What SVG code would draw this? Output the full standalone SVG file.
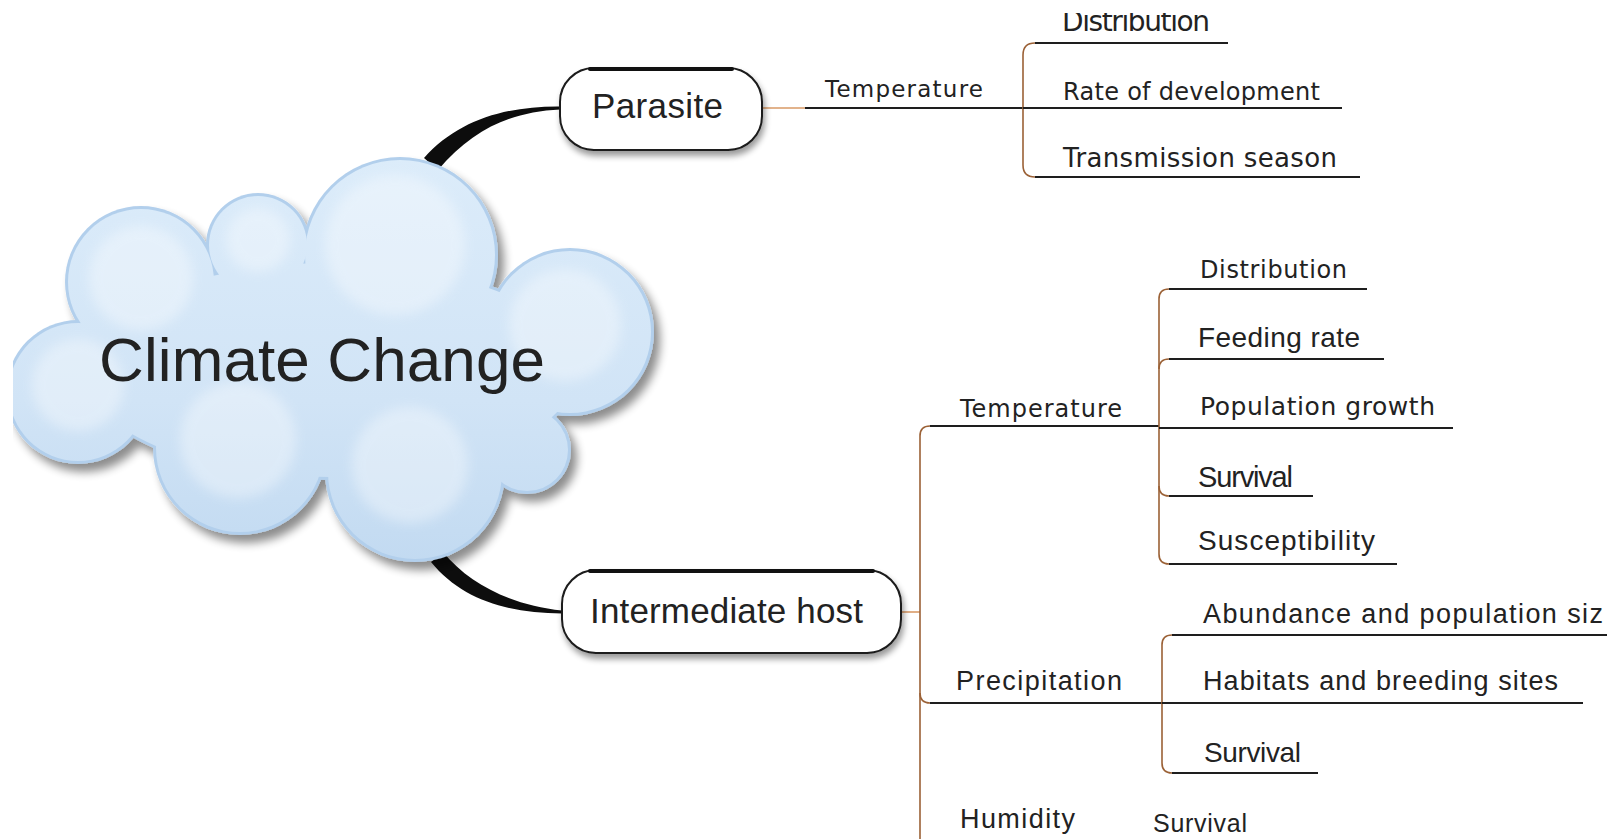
<svg xmlns="http://www.w3.org/2000/svg" width="1607" height="839" viewBox="0 0 1607 839">
<style>
  .ul{stroke:#1e1e1e;stroke-width:2;fill:none}
  .br{stroke:#9b6136;stroke-width:1.6;fill:none}
  .lead{stroke:#d99a66;stroke-width:1.6;fill:none}
  .dj{font-family:"DejaVu Sans","Liberation Sans",sans-serif;fill:#222}
  .ar{font-family:"Liberation Sans",Arial,sans-serif;fill:#222}
  .box{fill:#ffffff;stroke:#1a1a1a;stroke-width:2}
  .rim{stroke:#111;stroke-width:4;fill:none;stroke-linecap:round}
  .conn{fill:#0d0d0d}
</style>
<defs>
  <filter id="cloudShadow" x="-10%" y="-10%" width="125%" height="130%">
    <feGaussianBlur in="SourceAlpha" stdDeviation="5"/>
    <feOffset dx="6" dy="8"/>
    <feComponentTransfer><feFuncA type="linear" slope="0.45"/></feComponentTransfer>
    <feMerge><feMergeNode/><feMergeNode in="SourceGraphic"/></feMerge>
  </filter>
  <filter id="boxShadow" x="-10%" y="-20%" width="120%" height="150%">
    <feGaussianBlur in="SourceAlpha" stdDeviation="3"/>
    <feOffset dx="2" dy="5"/>
    <feComponentTransfer><feFuncA type="linear" slope="0.4"/></feComponentTransfer>
    <feMerge><feMergeNode/><feMergeNode in="SourceGraphic"/></feMerge>
  </filter>
  <filter id="soft" x="-20%" y="-20%" width="140%" height="140%">
    <feGaussianBlur stdDeviation="6"/>
  </filter>
  <linearGradient id="cloudFill" gradientUnits="userSpaceOnUse" x1="0" y1="156" x2="0" y2="564">
    <stop offset="0" stop-color="#dcecfa"/>
    <stop offset="0.6" stop-color="#d1e4f6"/>
    <stop offset="1" stop-color="#c2daf1"/>
  </linearGradient>
  <clipPath id="cloudClip"><rect x="13" y="0" width="700" height="839"/></clipPath>
  <clipPath id="topClip"><rect x="0" y="13" width="1607" height="826"/></clipPath>
</defs>
<rect width="1607" height="839" fill="#ffffff"/>

<!-- thick connectors from the central cloud to the two main branches -->
<g id="connectors">
  <path class="conn" d="M424 158 C458 120 506 106 560 106.5 L560 109.5 C512 112 474 128 438 170 Z"/>
  <path class="conn" d="M443 552 C470 585 512 605 562 610.5 L562 613.5 C508 613 462 600 431 562 Z"/>
  <!-- parasite branch -->
  <line class="lead" x1="762" y1="108" x2="805" y2="108"/>
  <line class="ul" x1="805" y1="108" x2="1023" y2="108"/>
  <path class="br" d="M1035 43 Q1023 43 1023 55 L1023 165 Q1023 177 1035 177"/>
  <line class="ul" x1="1035" y1="43" x2="1228" y2="43"/>
  <line class="ul" x1="1023" y1="108" x2="1342" y2="108"/>
  <line class="ul" x1="1035" y1="177" x2="1360" y2="177"/>
  <!-- intermediate host branch -->
  <line class="lead" x1="901" y1="612" x2="920" y2="612"/>
  <path class="br" d="M930 426 Q920 426 920 436 L920 839"/>
  <line class="ul" x1="930" y1="426" x2="1159" y2="426"/>
  <path class="br" d="M1169 289 Q1159 289 1159 299 L1159 554 Q1159 564 1169 564"/>
  <line class="ul" x1="1169" y1="289" x2="1367" y2="289"/>
  <path class="br" d="M1159 369 Q1159 359 1169 359"/>
  <line class="ul" x1="1169" y1="359" x2="1384" y2="359"/>
  <line class="ul" x1="1159" y1="428" x2="1453" y2="428"/>
  <path class="br" d="M1159 486 Q1159 496 1169 496"/>
  <line class="ul" x1="1169" y1="496" x2="1313" y2="496"/>
  <line class="ul" x1="1169" y1="564" x2="1397" y2="564"/>
  <path class="br" d="M920 693 Q920 703 930 703"/>
  <line class="ul" x1="930" y1="703" x2="1162" y2="703"/>
  <path class="br" d="M1172 635 Q1162 635 1162 645 L1162 763 Q1162 773 1172 773"/>
  <line class="ul" x1="1172" y1="635" x2="1607" y2="635"/>
  <line class="ul" x1="1162" y1="703" x2="1583" y2="703"/>
  <line class="ul" x1="1172" y1="773" x2="1318" y2="773"/>
</g>

<!-- central cloud -->
<g id="climate-change" clip-path="url(#cloudClip)">
  <g filter="url(#cloudShadow)">
    <g fill="#b2cfec">
      <circle cx="141" cy="282" r="76"/>
      <circle cx="258" cy="245" r="52"/>
      <circle cx="400" cy="255" r="98"/>
      <circle cx="570" cy="332" r="84"/>
      <circle cx="527" cy="450" r="44"/>
      <circle cx="415" cy="472" r="90"/>
      <circle cx="240" cy="448" r="87"/>
      <circle cx="78" cy="392" r="72"/>
      <ellipse cx="330" cy="370" rx="250" ry="110"/>
    </g>
  </g>
  <g fill="url(#cloudFill)">
    <circle cx="141" cy="282" r="73"/>
    <circle cx="258" cy="245" r="49"/>
    <circle cx="400" cy="255" r="95"/>
    <circle cx="570" cy="332" r="81"/>
    <circle cx="527" cy="450" r="41"/>
    <circle cx="415" cy="472" r="87"/>
    <circle cx="240" cy="448" r="84"/>
    <circle cx="78" cy="392" r="69"/>
    <ellipse cx="330" cy="370" rx="247" ry="107"/>
  </g>
  <g fill="#ffffff" opacity="0.35" filter="url(#soft)">
    <circle cx="141" cy="278" r="52"/>
    <circle cx="258" cy="240" r="32"/>
    <circle cx="395" cy="245" r="70"/>
    <circle cx="565" cy="325" r="56"/>
    <circle cx="410" cy="465" r="58"/>
    <circle cx="238" cy="440" r="58"/>
    <circle cx="78" cy="385" r="46"/>
  </g>
  <text class="ar" x="99" y="381" font-size="62" fill="#111" textLength="446">Climate Change</text>
</g>

<!-- main branch nodes -->
<g id="parasite">
  <rect class="box" x="560" y="68" width="202" height="82" rx="34" filter="url(#boxShadow)"/>
  <line class="rim" x1="590" y1="69" x2="732" y2="69"/>
  <text class="ar" x="592" y="118" font-size="35" textLength="131">Parasite</text>
</g>
<g id="intermediate-host">
  <rect class="box" x="562" y="570" width="339" height="83" rx="34" filter="url(#boxShadow)"/>
  <line class="rim" x1="590" y1="571" x2="873" y2="571"/>
  <text class="ar" x="590" y="623" font-size="35" textLength="273">Intermediate host</text>
</g>

<!-- parasite factors -->
<g id="parasite-temperature">
  <text class="dj" x="825" y="97" font-size="23" textLength="158">Temperature</text>
</g>
<g id="parasite-distribution" clip-path="url(#topClip)">
  <text class="dj" x="1062" y="31" font-size="28" textLength="148">Distribution</text>
</g>
<g id="rate-of-development">
  <text class="dj" x="1063" y="100" font-size="24" textLength="257">Rate of development</text>
</g>
<g id="transmission-season">
  <text class="dj" x="1063" y="167" font-size="26" textLength="274">Transmission season</text>
</g>

<!-- intermediate host factors -->
<g id="host-temperature">
  <text class="dj" x="960" y="417" font-size="24" textLength="162">Temperature</text>
</g>
<g id="host-distribution">
  <text class="dj" x="1200" y="278" font-size="24" textLength="147">Distribution</text>
</g>
<g id="feeding-rate">
  <text class="ar" x="1198" y="347" font-size="28" textLength="162">Feeding rate</text>
</g>
<g id="population-growth">
  <text class="dj" x="1200" y="415" font-size="25" textLength="235">Population growth</text>
</g>
<g id="temperature-survival">
  <text class="ar" x="1198" y="487" font-size="29" textLength="95">Survival</text>
</g>
<g id="susceptibility">
  <text class="ar" x="1198" y="550" font-size="28" textLength="177">Susceptibility</text>
</g>
<g id="precipitation">
  <text class="ar" x="956" y="690" font-size="27" textLength="166">Precipitation</text>
</g>
<g id="abundance">
  <text class="ar" x="1203" y="623" font-size="27" textLength="400">Abundance and population siz</text>
</g>
<g id="habitats">
  <text class="ar" x="1203" y="690" font-size="27" textLength="355">Habitats and breeding sites</text>
</g>
<g id="precipitation-survival">
  <text class="ar" x="1204" y="762" font-size="28" textLength="97">Survival</text>
</g>
<g id="humidity">
  <text class="ar" x="960" y="828" font-size="27" textLength="115">Humidity</text>
</g>
<g id="humidity-survival">
  <text class="ar" x="1153" y="832" font-size="25" textLength="94">Survival</text>
</g>
</svg>
